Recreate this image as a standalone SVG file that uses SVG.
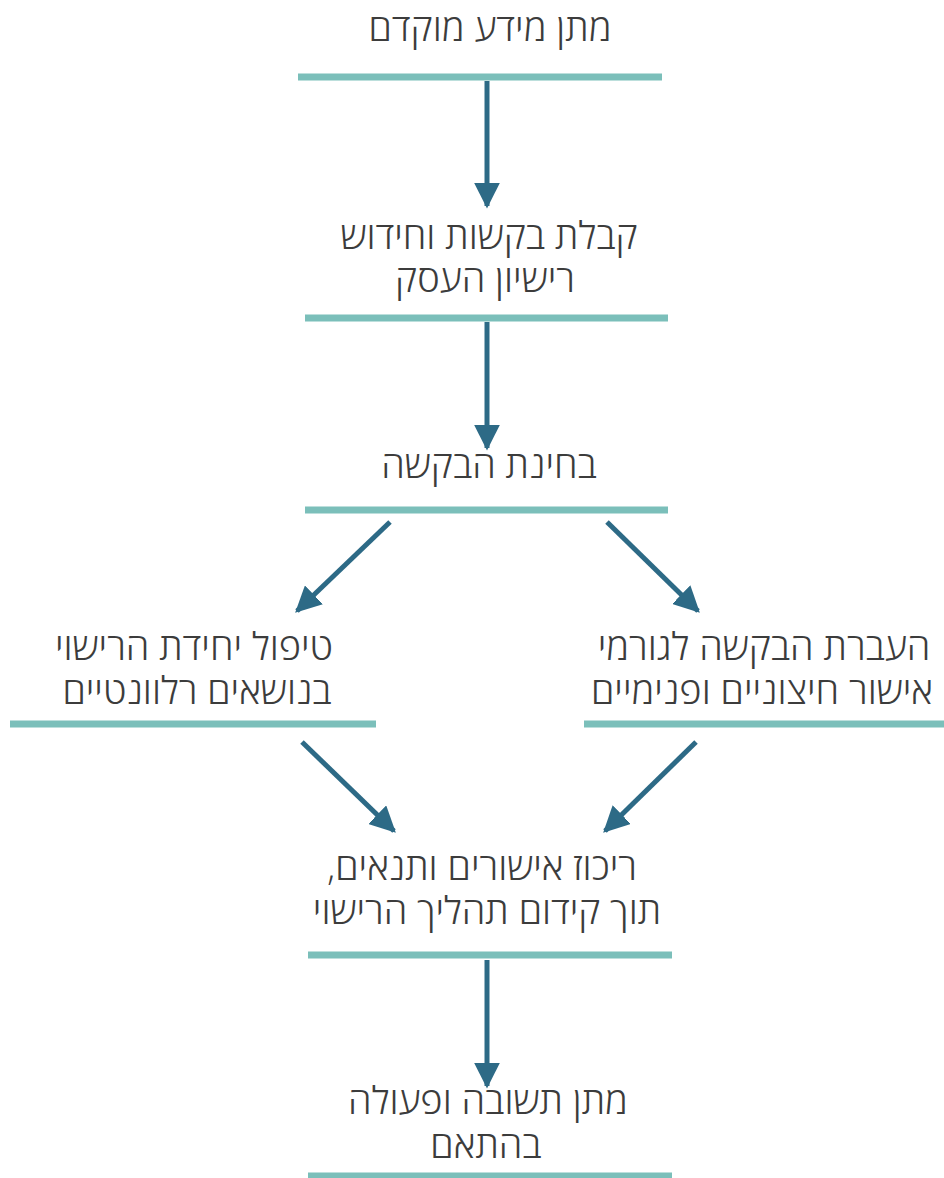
<svg xmlns="http://www.w3.org/2000/svg" width="944" height="1178" viewBox="0 0 944 1178">
<style>
.t{font-family:"Open Sans","Liberation Sans","DejaVu Sans",sans-serif;font-size:38px;font-weight:300;fill:#3c3c3c;text-anchor:middle;direction:rtl}
.bar{stroke:#7bbfba;stroke-width:7}
.c{stroke:#2d6a86;stroke-width:5;fill:none;marker-end:url(#ah)}
</style>
<defs>
<marker id="ah" viewBox="0 0 10 10" refX="9" refY="5" markerWidth="5.2" markerHeight="5.2" orient="auto" markerUnits="strokeWidth">
<path d="M0,0 L10,5 L0,10 z" fill="#2d6a86"/>
</marker>
</defs>
<rect width="944" height="1178" fill="#fff"/>
<g id="n1"><text class="t" x="490" y="41">מתן מידע מוקדם</text><line class="bar" x1="298" y1="77" x2="662" y2="77"/></g>
<g id="n2"><text class="t" x="489" y="249">קבלת בקשות וחידוש</text><text class="t" x="485" y="292">רישיון העסק</text><line class="bar" x1="305" y1="318" x2="668" y2="318"/></g>
<g id="n3"><text class="t" x="489" y="478">בחינת הבקשה</text><line class="bar" x1="305" y1="510" x2="668" y2="510"/></g>
<g id="n4"><text class="t" x="194" y="660">טיפול יחידת הרישוי</text><text class="t" x="197" y="704">בנושאים רלוונטיים</text><line class="bar" x1="10" y1="724" x2="376" y2="724"/></g>
<g id="n5"><text class="t" x="764" y="660">העברת הבקשה לגורמי</text><text class="t" x="762" y="704">אישור חיצוניים ופנימיים</text><line class="bar" x1="584" y1="724" x2="944" y2="724"/></g>
<g id="n6"><text class="t" x="482" y="880">ריכוז אישורים ותנאים,</text><text class="t" x="487" y="924">תוך קידום תהליך הרישוי</text><line class="bar" x1="308" y1="955" x2="672" y2="955"/></g>
<g id="n7"><text class="t" x="488" y="1114">מתן תשובה ופעולה</text><text class="t" x="486" y="1158">בהתאם</text><line class="bar" x1="308" y1="1176" x2="672" y2="1176"/></g>
<g id="connectors">
<line class="c" x1="487" y1="81" x2="487" y2="206"/>
<line class="c" x1="487" y1="322" x2="487" y2="448"/>
<line class="c" x1="390" y1="522" x2="297" y2="611"/>
<line class="c" x1="607" y1="522" x2="698" y2="611"/>
<line class="c" x1="302" y1="742" x2="394" y2="831"/>
<line class="c" x1="696" y1="742" x2="605" y2="831"/>
<line class="c" x1="487" y1="960" x2="487" y2="1086"/>
</g>
</svg>
